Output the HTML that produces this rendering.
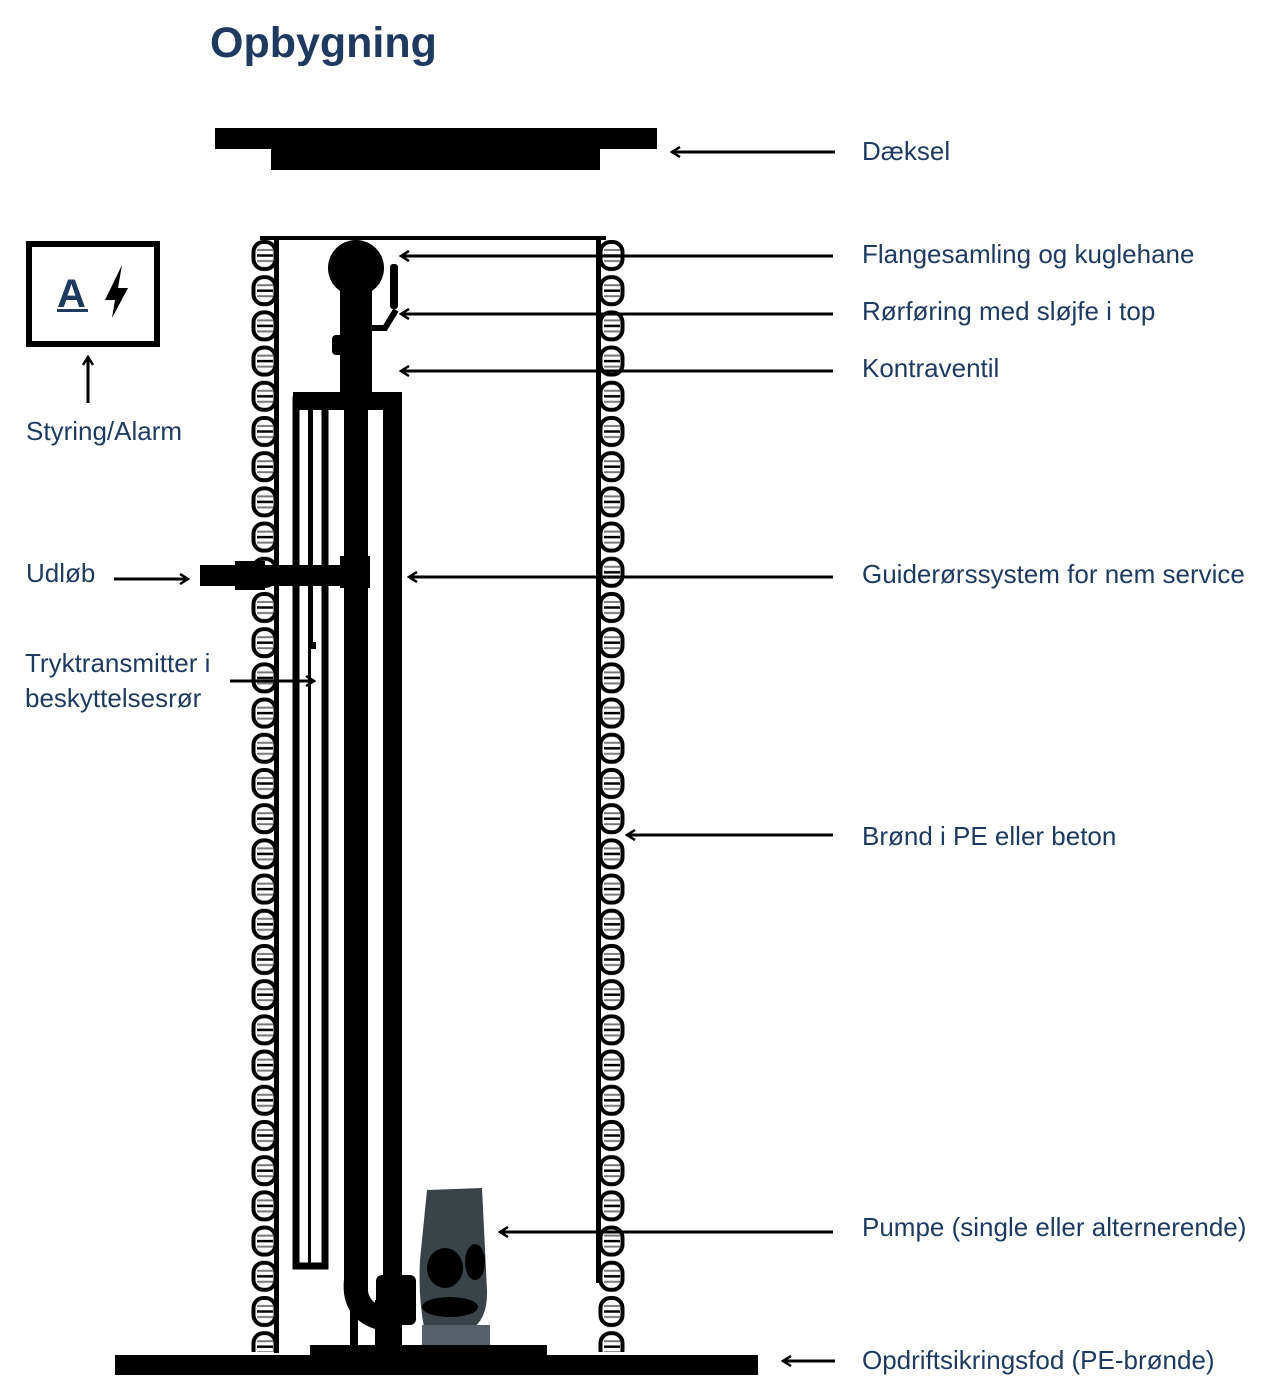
<!DOCTYPE html>
<html><head><meta charset="utf-8"><style>
html,body{margin:0;padding:0;background:#fff;}
svg{display:block}
text{font-family:"Liberation Sans",sans-serif;fill:#1e3a5f;}
</style></head><body>
<svg width="1275" height="1398" viewBox="0 0 1275 1398" xmlns="http://www.w3.org/2000/svg">
<defs>
<g id="bump">
<rect x="2.5" y="4" width="22" height="27" rx="10" fill="#fff" stroke="#000" stroke-width="4"/>
<line x1="6" y1="12" x2="22" y2="12" stroke="#777" stroke-width="2"/>
<line x1="6" y1="17.5" x2="22" y2="17.5" stroke="#000" stroke-width="2.5"/>
<line x1="6" y1="23" x2="22" y2="23" stroke="#777" stroke-width="2"/>
</g>
<pattern id="bl" x="251" y="238" width="30" height="35.2" patternUnits="userSpaceOnUse"><use href="#bump"/></pattern>
<pattern id="br" x="598" y="238" width="30" height="35.2" patternUnits="userSpaceOnUse"><use href="#bump"/></pattern>
<marker id="ah" viewBox="0 0 12 12" refX="10" refY="6" markerWidth="12" markerHeight="12" markerUnits="userSpaceOnUse" orient="auto">
<path d="M2 1 L10 6 L2 11" fill="none" stroke="#000" stroke-width="2.5"/>
</marker>
</defs>
<text x="210" y="57" font-size="43" font-weight="bold">Opbygning</text>

<rect x="215" y="128" width="442" height="21" fill="#000"/>
<rect x="271" y="149" width="329" height="21" fill="#000"/>

<rect x="251" y="240" width="26" height="1112" fill="url(#bl)"/>
<rect x="598" y="240" width="30" height="1112" fill="url(#br)"/>
<rect x="274" y="238" width="5" height="1115" fill="#000"/>
<rect x="596" y="238" width="5" height="1045" fill="#000"/>
<rect x="260" y="236" width="346" height="4" fill="#000"/>

<rect x="310" y="1345" width="237" height="12" fill="#000"/>
<rect x="115" y="1355" width="643" height="20" fill="#000"/>

<rect x="293" y="392" width="109" height="18" fill="#000"/>
<rect x="296" y="400" width="29" height="866" fill="none" stroke="#000" stroke-width="7"/>
<rect x="308" y="410" width="3" height="855" fill="#000"/>
<rect x="311" y="410" width="2" height="235" fill="#000"/>
<rect x="309" y="642" width="7" height="7" fill="#000"/>
<rect x="383" y="400" width="19" height="945" fill="#000"/>
<rect x="344" y="380" width="24" height="910" fill="#000"/>
<path d="M356 1280 Q352 1315 390 1320" fill="none" stroke="#000" stroke-width="24"/>
<rect x="350" y="1300" width="8" height="48" fill="#000"/>
<rect x="375" y="1300" width="8" height="48" fill="#000"/>
<rect x="376" y="1275" width="40" height="50" rx="6" fill="#000"/>

<circle cx="356" cy="268" r="28" fill="#000"/>
<rect x="340" y="290" width="32" height="102" fill="#000"/>
<rect x="332" y="335" width="12" height="20" rx="4" fill="#000"/>
<rect x="390" y="264" width="8" height="45" rx="3" fill="#000"/>
<path d="M372 328 L385 328 L396 310" fill="none" stroke="#000" stroke-width="6"/>

<rect x="200" y="565" width="168" height="21" fill="#000"/>
<rect x="235" y="561" width="30" height="29" fill="#000"/>
<rect x="340" y="556" width="30" height="32" fill="#000"/>

<path d="M427 1190 L482 1188 L487 1290 Q488 1320 470 1330 L425 1332 Q418 1300 420 1260 Z" fill="#3a4448"/>
<ellipse cx="445" cy="1268" rx="18" ry="20" fill="#000"/>
<ellipse cx="475" cy="1262" rx="10" ry="18" fill="#000"/>
<ellipse cx="450" cy="1307" rx="28" ry="10" fill="#000"/>
<rect x="422" y="1325" width="68" height="20" fill="#556068"/>

<rect x="29" y="244" width="128" height="100" fill="none" stroke="#000" stroke-width="6"/>
<text x="57" y="307" font-size="40" font-weight="bold">A</text>
<rect x="57" y="309" width="31" height="3" fill="#1e3a5f"/>
<path d="M122 265 L105 300 L115 300 L112 318 L128 288 L118 288 Z" fill="#000"/>
<line x1="88" y1="403" x2="88" y2="357" stroke="#000" stroke-width="3" marker-end="url(#ah)"/>

<g stroke="#000" stroke-width="3">
<line x1="835" y1="152" x2="672" y2="152" marker-end="url(#ah)"/>
<line x1="833" y1="256" x2="401" y2="256" marker-end="url(#ah)"/>
<line x1="833" y1="314" x2="401" y2="314" marker-end="url(#ah)"/>
<line x1="833" y1="371" x2="401" y2="371" marker-end="url(#ah)"/>
<line x1="833" y1="577" x2="409" y2="577" marker-end="url(#ah)"/>
<line x1="833" y1="835" x2="627" y2="835" marker-end="url(#ah)"/>
<line x1="833" y1="1232" x2="500" y2="1232" marker-end="url(#ah)"/>
<line x1="835" y1="1361" x2="783" y2="1361" marker-end="url(#ah)"/>
<line x1="114" y1="579" x2="188" y2="579" marker-end="url(#ah)"/>
<line x1="230" y1="681" x2="314" y2="681" marker-end="url(#ah)"/>
</g>

<g font-size="26">
<text x="862" y="160">Dæksel</text>
<text x="862" y="263">Flangesamling og kuglehane</text>
<text x="862" y="320">Rørføring med sløjfe i top</text>
<text x="862" y="377">Kontraventil</text>
<text x="862" y="583">Guiderørssystem for nem service</text>
<text x="862" y="845">Brønd i PE eller beton</text>
<text x="862" y="1236">Pumpe (single eller alternerende)</text>
<text x="862" y="1369">Opdriftsikringsfod (PE-brønde)</text>
<text x="26" y="440">Styring/Alarm</text>
<text x="26" y="582">Udløb</text>
<text x="25" y="672">Tryktransmitter i</text>
<text x="25" y="707">beskyttelsesrør</text>
</g>
</svg>
</body></html>
